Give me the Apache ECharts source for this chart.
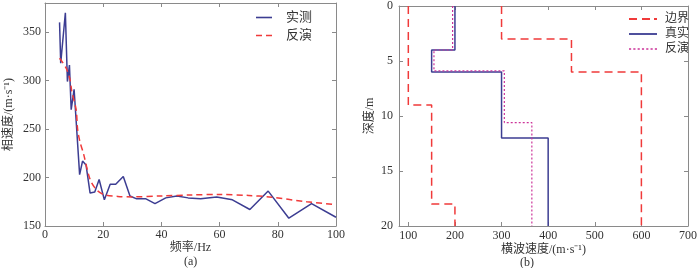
<!DOCTYPE html>
<html>
<head>
<meta charset="utf-8">
<script src="https://cdn.jsdelivr.net/npm/echarts@6/dist/echarts.min.js"></script>
<style>
  html, body { margin: 0; padding: 0; background: #fff; }
  #chart { width: 700px; height: 268px; }
</style>
</head>
<body>
<div id="chart"></div>
<script>
// (a) dispersion curve: frequency (Hz) vs phase velocity (m/s)
var measFreq = [5, 5.4, 7.0, 7.7, 8.4, 9.0, 10.0, 11.9, 12.9, 14.1, 15.5, 17.1, 18.6, 20.4, 22.4, 24.3, 26.9, 29.2, 31.5, 34.7, 37.8, 41.5, 45.3, 49.2, 53.5, 59.0, 64.4, 70.4, 76.7, 83.8, 91.6, 100];
var measVel = [360, 318, 370, 299, 316, 270, 291, 203, 217, 213, 184, 185, 198, 177, 193, 193, 201, 181, 178, 178, 173, 179, 181, 179, 178, 180, 177, 167, 186, 158, 173, 159];
var invFreq = [5, 6, 7.4, 8.6, 9.2, 10.7, 11.2, 12, 13.2, 15.5, 17.8, 20.6, 25, 30, 40, 50, 60, 70, 77, 90, 100];
var invVel = [323, 319, 312, 301, 289, 270, 250, 237, 225, 198, 187, 182, 180.5, 180, 181, 182, 182.5, 181.5, 180, 175, 172];

// (b) shear wave velocity profiles: layer velocity and layer top depth, bottom at 20 m
var lowVs = [100, 150, 200];
var lowTop = [0, 9, 18];
var upVs = [300, 450, 600];
var upTop = [0, 3, 6];
var trueVs = [200, 150, 300, 400];
var trueTop = [0, 4, 6, 12];
var invVs = [195, 155, 306, 365];
var invTop = [0, 4, 5.9, 10.6];
var maxDepth = 20;

var xTicksB = [100, 200, 300, 400, 500, 600, 700];

function pairs(xs, ys) {
    var out = [];
    for (var i = 0; i < xs.length; i++) out.push([xs[i], ys[i]]);
    return out;
}

function steps(vs, tops) {
    var out = [];
    for (var i = 0; i < vs.length; i++) {
        var bottom = (i + 1 < tops.length) ? tops[i + 1] : maxDepth;
        out.push([vs[i], tops[i]]);
        out.push([vs[i], bottom]);
    }
    return out;
}

var serif = '"Liberation Serif", "Noto Sans CJK SC", serif';
var axisGray = '#8a8a8a';
var textCol = '#333';
var blue = '#3c3d92';
var red = '#f03a3a';
var magenta = '#cc3399';

// legend icons drawn as little filled paths so the dashes show
var iconSolidA = 'path://M0,0H16V1.6H0Z';
var iconDashA = 'path://M0,0H6V1.6H0Z M10,0H16V1.6H10Z';
var iconSolidB = 'path://M0,0H28V1.8H0Z';
var iconDashB = 'path://M0,0H8V1.8H0Z M13,0H21V1.8H13Z M25,0H28V1.8H25Z';
var iconDotB = 'path://M0,0H2V1.6H0Z M4,0H6V1.6H4Z M8,0H10V1.6H8Z M12,0H14V1.6H12Z M16,0H18V1.6H16Z M20,0H22V1.6H20Z M24,0H26V1.6H24Z';

function frameAxis(extra) {
    var base = {
        axisLine: { show: true, onZero: false, lineStyle: { color: axisGray, width: 1 } },
        axisTick: { show: true, inside: true, length: 4, lineStyle: { color: axisGray } },
        axisLabel: { show: false },
        splitLine: { show: false },
        nameMoveOverlap: false
    };
    for (var k in extra) base[k] = extra[k];
    return base;
}

var nameStyle = { color: textCol, fontSize: 12, fontFamily: serif };

var chart = echarts.init(document.getElementById('chart'));

var option = {
    animation: false,
    backgroundColor: '#fff',
    title: [
        { text: '(a)', left: 184, top: 256, padding: 0, textStyle: { fontSize: 12, fontWeight: 'normal', fontFamily: serif, color: textCol } },
        { text: '(b)', left: 520, top: 257, padding: 0, textStyle: { fontSize: 12, fontWeight: 'normal', fontFamily: serif, color: textCol } }
    ],
    grid: [
        { left: 45, right: 364, top: 3, bottom: 42 },
        { left: 399, right: 8, top: 3, bottom: 42 }
    ],
    legend: [
        {
            id: 'legA',
            data: [
                { name: '实测', icon: iconSolidA, itemStyle: { color: blue } },
                { name: '反演', icon: iconDashA, itemStyle: { color: red } }
            ],
            orient: 'vertical', left: 256, top: 11, padding: 0,
            itemWidth: 16, itemHeight: 12, itemGap: 5,
            itemStyle: { borderWidth: 0 },
            textStyle: { fontSize: 13, color: textCol, fontFamily: serif, padding: [0, 0, 0, 9] }
        },
        {
            id: 'legB',
            data: [
                { name: '边界', icon: iconDashB, itemStyle: { color: red } },
                { name: '真实', icon: iconSolidB, itemStyle: { color: blue } },
                { name: '反演 ', icon: iconDotB, itemStyle: { color: magenta } }
            ],
            orient: 'vertical', left: 629, top: 13, padding: 0,
            itemWidth: 28, itemHeight: 11, itemGap: 3,
            itemStyle: { borderWidth: 0 },
            textStyle: { fontSize: 12, color: textCol, fontFamily: serif, padding: [0, 0, 0, 3] }
        }
    ],
    xAxis: [
        frameAxis({
            gridIndex: 0, type: 'value', min: 0, max: 100, interval: 20,
            axisLabel: { show: true, margin: 3, color: textCol, fontSize: 12, fontFamily: serif },
            name: '频率/Hz', nameLocation: 'middle', nameGap: 16, nameTextStyle: nameStyle
        }),
        frameAxis({ gridIndex: 0, type: 'value', min: 0, max: 100, interval: 20, position: 'top' }),
        frameAxis({
            gridIndex: 1, type: 'value', min: 80, max: 700,
            axisTick: { show: true, inside: true, length: 4, customValues: xTicksB, lineStyle: { color: axisGray } },
            axisLabel: { show: true, margin: 4, customValues: xTicksB, color: textCol, fontSize: 12, fontFamily: serif },
            name: '横波速度/(m·s⁻¹)', nameLocation: 'middle', nameGap: 18, nameTextStyle: nameStyle
        }),
        frameAxis({
            gridIndex: 1, type: 'value', min: 80, max: 700, position: 'top',
            axisTick: { show: true, inside: true, length: 4, customValues: xTicksB, lineStyle: { color: axisGray } }
        })
    ],
    yAxis: [
        frameAxis({
            gridIndex: 0, type: 'value', min: 150, max: 380, interval: 50,
            axisLabel: { show: true, margin: 4, showMaxLabel: false, color: textCol, fontSize: 12, fontFamily: serif },
            name: '相速度/(m·s⁻¹)', nameLocation: 'middle', nameGap: 30, nameTextStyle: nameStyle
        }),
        frameAxis({ gridIndex: 0, type: 'value', min: 150, max: 380, interval: 50, position: 'right' }),
        frameAxis({
            gridIndex: 1, type: 'value', min: 0, max: 20, interval: 5, inverse: true,
            axisLabel: { show: true, margin: 6, color: textCol, fontSize: 12, fontFamily: serif },
            name: '深度/m', nameLocation: 'middle', nameGap: 23, nameTextStyle: nameStyle
        }),
        frameAxis({ gridIndex: 1, type: 'value', min: 0, max: 20, interval: 5, inverse: true, position: 'right' })
    ],
    series: [
        {
            name: '实测', type: 'line', xAxisIndex: 0, yAxisIndex: 0,
            data: pairs(measFreq, measVel), symbol: 'none',
            lineStyle: { color: blue, width: 1.5 }, itemStyle: { color: blue }
        },
        {
            name: '反演', type: 'line', xAxisIndex: 0, yAxisIndex: 0,
            data: pairs(invFreq, invVel), symbol: 'none', smooth: 0.3,
            lineStyle: { color: red, width: 1.5, type: [6, 4] }, itemStyle: { color: red }
        },
        {
            name: '边界', type: 'line', xAxisIndex: 2, yAxisIndex: 2,
            data: steps(lowVs, lowTop), symbol: 'none',
            lineStyle: { color: red, width: 1.5, type: [8, 5] }, itemStyle: { color: red }
        },
        {
            name: '边界', type: 'line', xAxisIndex: 2, yAxisIndex: 2,
            data: steps(upVs, upTop), symbol: 'none',
            lineStyle: { color: red, width: 1.5, type: [8, 5] }, itemStyle: { color: red }
        },
        {
            name: '真实', type: 'line', xAxisIndex: 2, yAxisIndex: 2,
            data: steps(trueVs, trueTop), symbol: 'none',
            lineStyle: { color: blue, width: 1.5 }, itemStyle: { color: blue }
        },
        {
            name: '反演 ', type: 'line', xAxisIndex: 2, yAxisIndex: 2,
            data: steps(invVs, invTop), symbol: 'none',
            lineStyle: { color: magenta, width: 1.2, type: [2, 2] }, itemStyle: { color: magenta }
        }
    ]
};

chart.setOption(option);
</script>
</body>
</html>
